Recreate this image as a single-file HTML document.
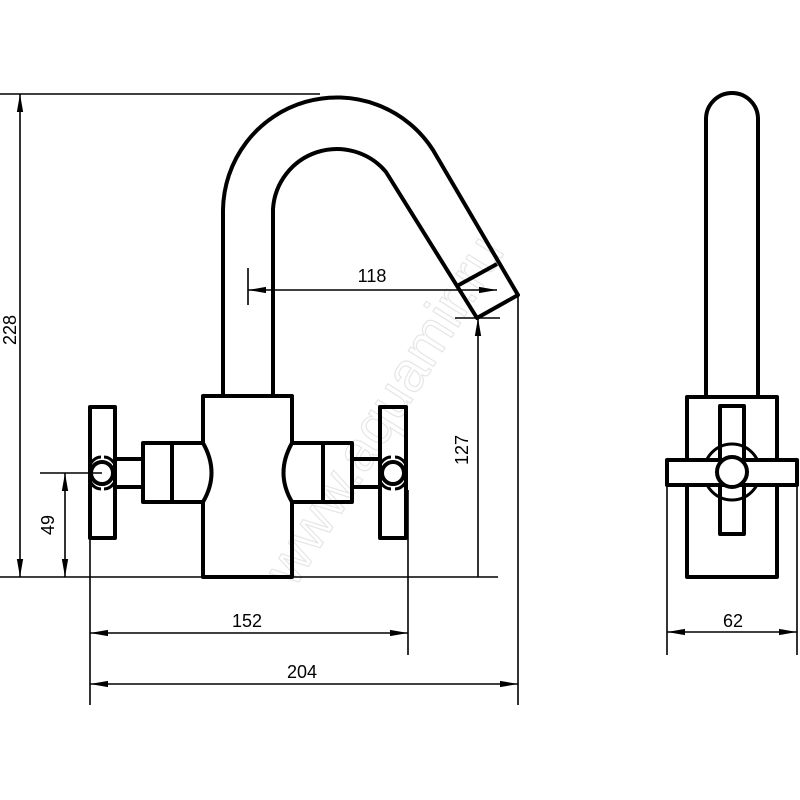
<!DOCTYPE html>
<html><head><meta charset="utf-8"><style>html,body{margin:0;padding:0;background:#fff}svg{display:block}</style></head>
<body>
<svg width="800" height="800" viewBox="0 0 800 800" xmlns="http://www.w3.org/2000/svg">
<defs>
<marker id="b" viewBox="0 0 20 10" refX="20" refY="5" markerWidth="18" markerHeight="9" markerUnits="userSpaceOnUse" orient="auto-start-reverse"><path d="M0,1.5 L20,5 L0,8.5 Z" fill="#000"/></marker>
</defs>
<text x="400" y="420" font-family="Liberation Sans, sans-serif" font-size="56" fill="none" stroke="#e6e6e6" stroke-width="1.2" text-anchor="middle" transform="rotate(-58 400 420)">www.aquamir.ru</text>
<g fill="none" stroke="#000" stroke-width="4" stroke-linejoin="round">
<path d="M223,396 V210 A114,114 0 0 1 433,150 L518,295 L477,318 L386,172 A64,64 0 0 0 273,209 V396"/>
<line x1="457" y1="286" x2="497" y2="264"/>
<!-- body with gaps -->
<path d="M203,443 V396 H292 V443 M292,502 V577 H203 V502"/>
<!-- left handle -->
<rect x="90" y="407" width="25" height="131"/>
<circle cx="102" cy="473" r="11"/>
<path d="M91,463 q4,-6 10,-6 M91,483 q4,6 10,6 M114,463 q-4,-6 -10,-6 M114,483 q-4,6 -10,6" stroke-width="3"/>
<rect x="115" y="459" width="28" height="28"/>
<path d="M203,443 H143 V502 H203 Q220,473 203,443"/>
<line x1="172" y1="443" x2="172" y2="502"/>
<!-- right handle -->
<rect x="380" y="407" width="26" height="131"/>
<circle cx="393" cy="473" r="11"/>
<path d="M381,463 q4,-6 10,-6 M381,483 q4,6 10,6 M405,463 q-4,-6 -10,-6 M405,483 q-4,6 -10,6" stroke-width="3"/>
<rect x="352" y="459" width="28" height="28"/>
<path d="M292,443 H352 V502 H292 Q275,473 292,443"/>
<line x1="323" y1="443" x2="323" y2="502"/>
<!-- side view -->
<path d="M706,397 V119 A26,26 0 0 1 758,119 V397"/>
<rect x="687" y="397" width="90" height="180"/>
<rect x="720" y="406" width="24" height="128"/>
<circle cx="732" cy="472" r="28" stroke-width="3"/>
<rect x="667" y="460" width="130" height="25" fill="#fff"/>
<circle cx="732" cy="472" r="15" fill="#fff"/>
</g>
<g stroke="#000" stroke-width="1.6" fill="none">
<line x1="0" y1="577" x2="498" y2="577"/>
<line x1="0" y1="94" x2="320" y2="94"/>
<line x1="20" y1="94" x2="20" y2="577" marker-start="url(#b)" marker-end="url(#b)"/>
<line x1="40" y1="473" x2="102" y2="473"/>
<line x1="65" y1="473" x2="65" y2="577" marker-start="url(#b)" marker-end="url(#b)"/>
<line x1="248" y1="268" x2="248" y2="305"/>
<line x1="248" y1="290" x2="497" y2="290" marker-start="url(#b)" marker-end="url(#b)"/>
<line x1="455" y1="318" x2="500" y2="318"/>
<line x1="478" y1="318" x2="478" y2="577" marker-start="url(#b)"/>
<line x1="90" y1="473" x2="90" y2="705"/>
<line x1="408" y1="490" x2="408" y2="655"/>
<line x1="518" y1="295" x2="518" y2="705"/>
<line x1="90" y1="633" x2="408" y2="633" marker-start="url(#b)" marker-end="url(#b)"/>
<line x1="90" y1="684" x2="518" y2="684" marker-start="url(#b)" marker-end="url(#b)"/>
<line x1="667" y1="485" x2="667" y2="655"/>
<line x1="797" y1="485" x2="797" y2="655"/>
<line x1="667" y1="632" x2="797" y2="632" marker-start="url(#b)" marker-end="url(#b)"/>
</g>
<g font-family="Liberation Sans, sans-serif" font-size="18" fill="#000" text-anchor="middle">
<text x="372" y="282">118</text>
<text x="247" y="627">152</text>
<text x="302" y="678">204</text>
<text x="733" y="627">62</text>
<text transform="translate(16,330) rotate(-90)">228</text>
<text transform="translate(54,525) rotate(-90)">49</text>
<text transform="translate(468,450) rotate(-90)">127</text>
</g>
</svg>
</body></html>
